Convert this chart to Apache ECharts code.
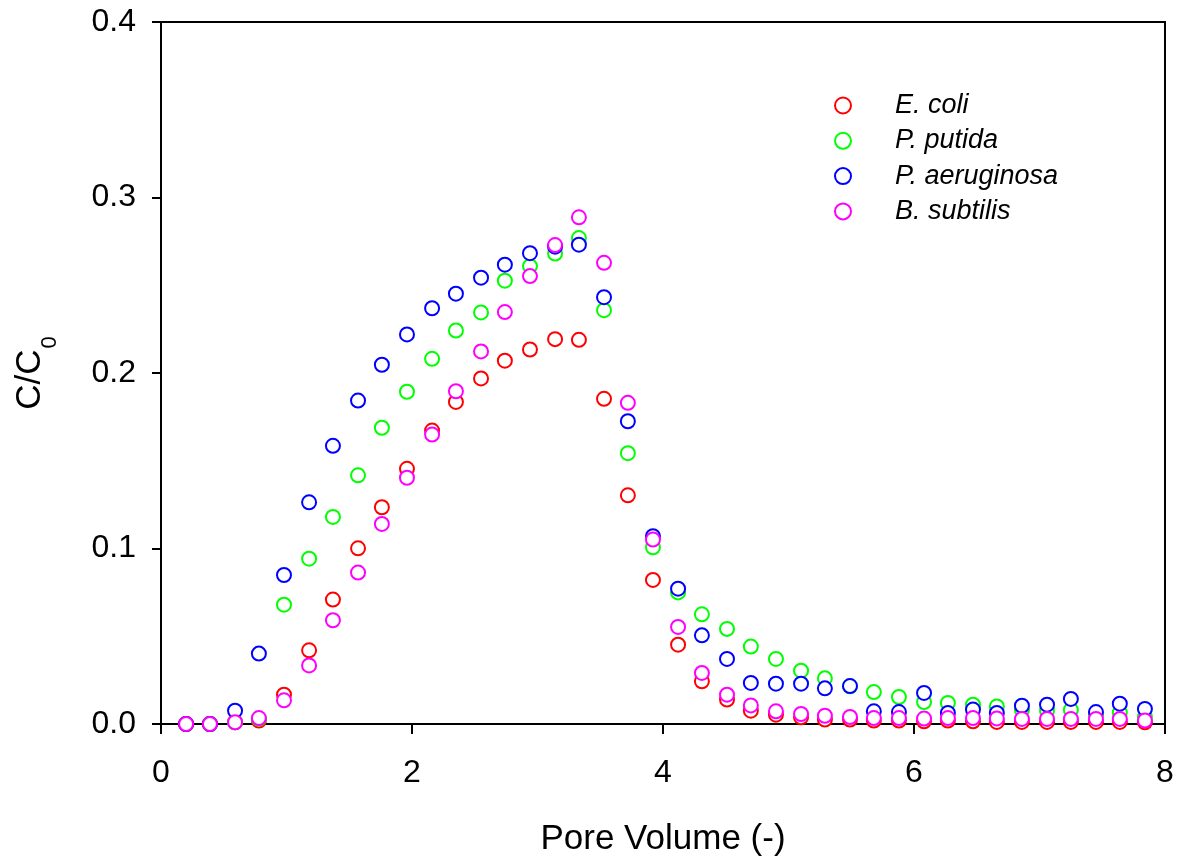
<!DOCTYPE html>
<html>
<head>
<meta charset="utf-8">
<script src="https://cdn.jsdelivr.net/npm/echarts@6/dist/echarts.min.js"></script>
<style>
  html, body { margin: 0; padding: 0; background: #fff; }
  #chart { width: 1177px; height: 859px; }
</style>
</head>
<body>
<div id="chart"></div>
<script>
// Pore volumes at which effluent samples were taken
const poreVolume = [
  0.20, 0.39, 0.59, 0.78, 0.98, 1.18, 1.37, 1.57, 1.76, 1.96,
  2.16, 2.35, 2.55, 2.74, 2.94, 3.14, 3.33, 3.53, 3.72, 3.92,
  4.12, 4.31, 4.51, 4.70, 4.90, 5.10, 5.29, 5.49, 5.68, 5.88,
  6.08, 6.27, 6.47, 6.66, 6.86, 7.06, 7.25, 7.45, 7.64, 7.84
];

// Relative effluent concentration C/C0 for each strain
const eColi = [
  0.000, 0.000, 0.001, 0.002, 0.0167, 0.0420, 0.0709, 0.1001, 0.1235, 0.1454,
  0.1672, 0.1835, 0.1969, 0.2070, 0.2134, 0.2193, 0.2189, 0.1853, 0.1303, 0.0821,
  0.0452, 0.0243, 0.0139, 0.0076, 0.0053, 0.0038, 0.0025, 0.0025, 0.0020, 0.0020,
  0.0015, 0.0020, 0.0015, 0.0012, 0.0012, 0.0012, 0.0012, 0.0012, 0.0012, 0.0010
];
const pPutida = [
  0.000, 0.000, 0.001, 0.003, 0.0680, 0.0942, 0.1180, 0.1417, 0.1688, 0.1893,
  0.2081, 0.2242, 0.2345, 0.2526, 0.2609, 0.2681, 0.2769, 0.2358, 0.1543, 0.1007,
  0.0750, 0.0625, 0.0542, 0.0441, 0.0371, 0.0304, 0.0260, 0.0215, 0.0182, 0.0154,
  0.0125, 0.0120, 0.0110, 0.0100, 0.0080, 0.0075, 0.0080, 0.0050, 0.0065, 0.0040
];
const pAeruginosa = [
  0.000, 0.000, 0.0076, 0.0401, 0.0849, 0.1263, 0.1585, 0.1843, 0.2047, 0.2220,
  0.2369, 0.2452, 0.2543, 0.2617, 0.2683, 0.2720, 0.2731, 0.2432, 0.1725, 0.1070,
  0.0771, 0.0505, 0.0371, 0.0234, 0.0230, 0.0230, 0.0203, 0.0216, 0.0072, 0.0068,
  0.0177, 0.0063, 0.0082, 0.0063, 0.0104, 0.0110, 0.0143, 0.0068, 0.0116, 0.0086
];
const bSubtilis = [
  0.000, 0.000, 0.001, 0.0034, 0.0135, 0.0334, 0.0591, 0.0863, 0.1140, 0.1403,
  0.1649, 0.1896, 0.2123, 0.2347, 0.2552, 0.2729, 0.2887, 0.2628, 0.1830, 0.1051,
  0.0553, 0.0291, 0.0167, 0.0106, 0.0072, 0.0057, 0.0047, 0.0040, 0.0034, 0.0034,
  0.0031, 0.0034, 0.0034, 0.0032, 0.0029, 0.0029, 0.0029, 0.0029, 0.0029, 0.0020
];

const strainNames = ['E. coli', 'P. putida', 'P. aeruginosa', 'B. subtilis'];
const strainColors = ['#ff0000', '#00ff00', '#0000ff', '#ff00ff'];
const strainValues = [eColi, pPutida, pAeruginosa, bSubtilis];

const xTicks = { min: 0, max: 8, interval: 2 };
const yTicks = { min: 0, max: 0.4, interval: 0.1 };

const FONT = '"Liberation Sans", Arial, Helvetica, sans-serif';

const chart = echarts.init(document.getElementById('chart'), null, { renderer: 'canvas' });

const series = strainNames.map((name, k) => ({
  name: name,
  type: 'scatter',
  symbol: 'emptyCircle',
  symbolSize: 14,
  itemStyle: { color: strainColors[k], borderColor: strainColors[k], borderWidth: 2, opacity: 1 },
  emphasis: { disabled: true },
  data: poreVolume.map((x, i) => [x, strainValues[k][i]])
}));

chart.setOption({
  animation: false,
  backgroundColor: '#ffffff',
  grid: {
    left: 161, right: 12, top: 22, bottom: 135,
    outerBoundsMode: 'none',
    containLabel: false,
    show: true, borderColor: '#000', borderWidth: 2, backgroundColor: 'transparent'
  },
  legend: {
    orient: 'vertical',
    left: 829,
    top: 87,
    itemWidth: 94,
    itemHeight: 16,
    itemGap: 8.3,
    selectedMode: false,
    data: strainNames.map(n => ({ name: n, icon: 'emptyCircle', itemStyle: { opacity: 1 } })),
    textStyle: { fontFamily: FONT, fontSize: 27, fontStyle: 'italic', color: '#000', lineHeight: 26 }
  },
  xAxis: {
    type: 'value',
    min: xTicks.min, max: xTicks.max, interval: xTicks.interval,
    name: 'Pore Volume (-)',
    nameLocation: 'middle',
    nameGap: 98,
    nameTextStyle: { fontFamily: FONT, fontSize: 35, color: '#000' },
    axisLine: { show: true, onZero: false, lineStyle: { color: '#000', width: 2 } },
    axisTick: { show: true, inside: false, length: 10, lineStyle: { color: '#000', width: 2 } },
    axisLabel: { fontFamily: FONT, fontSize: 32, color: '#000', margin: 33 },
    splitLine: { show: false }
  },
  yAxis: {
    type: 'value',
    min: yTicks.min, max: yTicks.max, interval: yTicks.interval,
    name: '{m|C/C}{s|0}',
    nameLocation: 'middle',
    nameGap: 113,
    nameRotate: 90,
    nameTextStyle: {
      fontFamily: FONT, color: '#000',
      rich: {
        m: { fontFamily: FONT, fontSize: 35, color: '#000', verticalAlign: 'bottom', lineHeight: 44 },
        s: { fontFamily: FONT, fontSize: 22, color: '#000', verticalAlign: 'bottom', lineHeight: 44, padding: [0, 0, -13, 1] }
      }
    },
    axisLine: { show: true, onZero: false, lineStyle: { color: '#000', width: 2 } },
    axisTick: { show: true, inside: false, length: 9, lineStyle: { color: '#000', width: 2 } },
    axisLabel: {
      fontFamily: FONT, fontSize: 32, color: '#000', margin: 25,
      formatter: v => v.toFixed(1)
    },
    splitLine: { show: false }
  },
  series: series
});
</script>
</body>
</html>
